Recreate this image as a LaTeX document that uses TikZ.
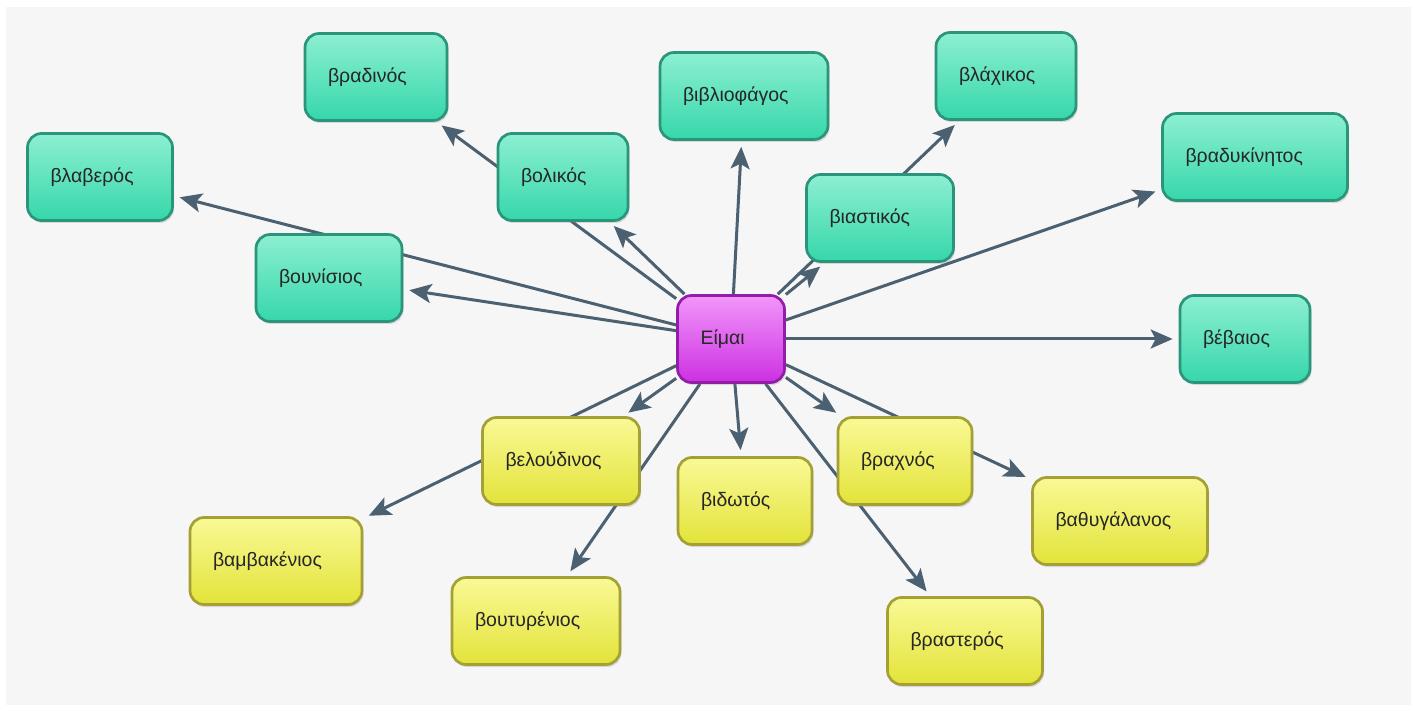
\documentclass[tikz,border=0pt]{standalone}
\usepackage{fontspec}
\setmainfont{Liberation Sans}
\usetikzlibrary{arrows.meta,shadows}
\pgfdeclarelayer{bg}
\pgfsetlayers{bg,main}
\definecolor{panel}{HTML}{F6F6F6}
\definecolor{tealT}{HTML}{8CEFD2}
\definecolor{tealB}{HTML}{36D7AA}
\definecolor{tealD}{HTML}{2A957A}
\definecolor{yelT}{HTML}{F9F996}
\definecolor{yelB}{HTML}{E3E33A}
\definecolor{yelD}{HTML}{A4A036}
\definecolor{magT}{HTML}{F296FA}
\definecolor{magB}{HTML}{CC30E2}
\definecolor{magD}{HTML}{921EA8}
\definecolor{arrowc}{HTML}{4B6071}
\definecolor{txt}{HTML}{262626}
\tikzset{
  box/.style={rounded corners=14pt, line width=2.7pt, minimum height=87pt,
    inner xsep=23pt, align=left, font=\fontsize{19.5}{22}\selectfont, text=txt,
    drop shadow={shadow xshift=1.5pt, shadow yshift=-2.5pt, opacity=0.25}},
  tbox/.style={box, draw=tealD, top color=tealT, bottom color=tealB},
  ybox/.style={box, draw=yelD, top color=yelT, bottom color=yelB},
  pbox/.style={box, draw=magD, top color=magT, bottom color=magB},
  conn/.style={draw=arrowc, line width=3pt,
    -{Stealth[length=22pt, width=19pt, inset=5pt]}, shorten >=6pt}
}
\begin{document}
\begin{tikzpicture}[x=1pt, y=-1pt]
\useasboundingbox (0,0) rectangle (1418,708);
\begin{pgfonlayer}{bg}
  \fill[white] (0,0) rectangle (1418,708);
  \fill[panel] (6,7) rectangle (1411,705);
\end{pgfonlayer}
% centre
\node[pbox, text width=61pt] (c) at (731,339) {Είμαι};
% teal
\node[tbox, text width=96pt]  (bradinos) at (376,77)  {βραδινός};
\node[tbox, text width=99pt]  (vlaveros) at (100,177) {βλαβερός};
\node[tbox, text width=84pt]  (volikos)  at (563,177) {βολικός};
\node[tbox, text width=122pt] (vivlio)   at (744,96)  {βιβλιοφάγος};
\node[tbox, text width=94pt]  (vlachikos) at (1006,76) {βλάχικος};
\node[tbox, text width=139pt] (vradyk)   at (1255,157) {βραδυκίνητος};
\node[tbox, text width=101pt] (viastikos) at (880,218) {βιαστικός};
\node[tbox, text width=100pt] (vounisios) at (329,278) {βουνίσιος};
\node[tbox, text width=84pt]  (vevaios)  at (1245,339) {βέβαιος};
% yellow
\node[ybox, text width=111pt] (veloud)   at (561,461) {βελούδινος};
\node[ybox, text width=88pt]  (vidotos)  at (745,501) {βιδωτός};
\node[ybox, text width=88pt]  (vrachnos) at (905,461) {βραχνός};
\node[ybox, text width=129pt] (vathyg)   at (1120,521) {βαθυγάλανος};
\node[ybox, text width=126pt] (vamvak)   at (276,561) {βαμβακένιος};
\node[ybox, text width=122pt] (voutyr)   at (536,621) {βουτυρένιος};
\node[ybox, text width=109pt] (vrasteros) at (965,641) {βραστερός};
% connectors
\begin{pgfonlayer}{bg}
  \foreach \t in {bradinos,vlaveros,volikos,vivlio,vlachikos,vradyk,viastikos,vounisios,vevaios,veloud,vidotos,vrachnos,vathyg,vamvak,voutyr,vrasteros}
    \draw[conn] (c) -- (\t);
\end{pgfonlayer}
\end{tikzpicture}
\end{document}
